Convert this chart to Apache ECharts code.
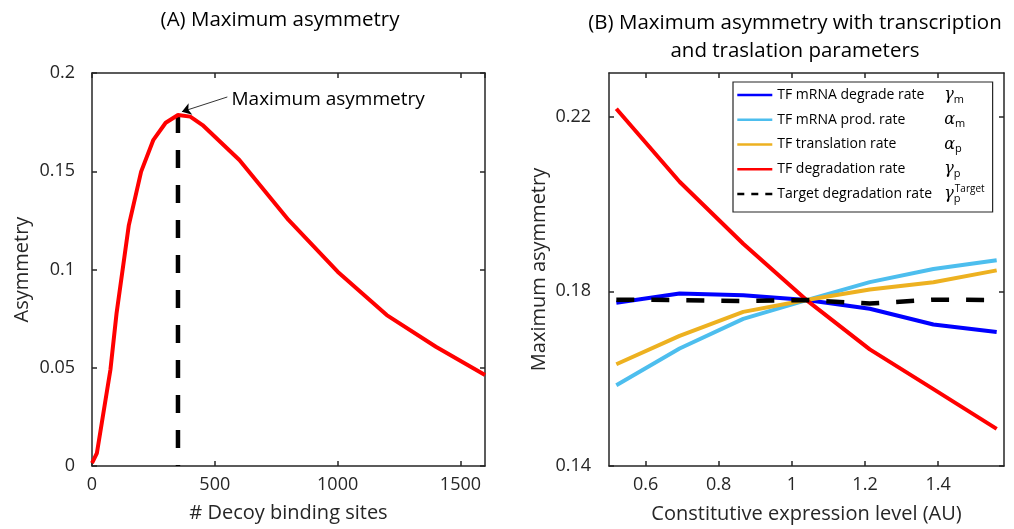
<!DOCTYPE html>
<html>
<head>
<meta charset="utf-8">
<script src="https://cdn.jsdelivr.net/npm/echarts@6/dist/echarts.min.js"></script>
<style>html,body{margin:0;padding:0;background:#fff}#c{width:1014px;height:529px}</style>
</head>
<body>
<div id="c"></div>
<script>
// ---------- Panel A data ----------
const decoySites = [0, 20, 40, 75, 100, 150, 200, 250, 300, 350, 400, 450, 600, 800, 1000, 1200, 1400, 1600];
const asymmetry  = [0.0015, 0.0066, 0.022, 0.049, 0.0777, 0.1226, 0.1498, 0.166, 0.1747, 0.1786, 0.1778, 0.1735, 0.1557, 0.1252, 0.0989, 0.0768, 0.0607, 0.0463];
const peakSite = 350;
const peakValue = 0.1786;
const annotationText = 'Maximum asymmetry';
const annotationAt = [568, 0.1863];      // label anchor (data units)
const arrowFrom = [551, 0.1878];         // arrow tail (data units)
const arrowTo = [366, 0.1803];           // arrow head (data units)

// ---------- Panel B data ----------
const expressionLevel = [0.52, 0.693, 0.867, 1.04, 1.213, 1.387, 1.56];
const seriesNamesB = ['TF mRNA degrade rate', 'TF mRNA prod. rate', 'TF translation rate', 'TF degradation rate', 'Target degradation rate'];
const mrnaDegrade   = [0.1774, 0.1795, 0.1791, 0.1780, 0.1760, 0.1724, 0.1707];
const mrnaProd      = [0.1585, 0.1669, 0.1737, 0.1780, 0.1821, 0.1851, 0.1871];
const translation   = [0.1633, 0.1698, 0.1753, 0.1780, 0.1804, 0.1821, 0.1848];
const tfDegradation = [0.2218, 0.2051, 0.1909, 0.1780, 0.1667, 0.1576, 0.1485];
const targetDegrad  = [0.1781, 0.1780, 0.1778, 0.1780, 0.1772, 0.1781, 0.1780];
const symbolsB = [['γ', 'm'], ['α', 'm'], ['α', 'p'], ['γ', 'p'], ['γ', 'p']];
const xTicksB = [0.6, 0.8, 1, 1.2, 1.4];
const yTicksB = [0.14, 0.18, 0.22];

const FONT = 'Open Sans';
const AX = '#262626';
const FS = 18;      // tick labels
const FN = 20;      // axis names

const zip = (xs, ys) => xs.map((x, i) => [x, ys[i]]);
const plain = v => String(Math.round(v * 1e6) / 1e6);

function axisBase(extra) {
  return Object.assign({
    type: 'value',
    axisLine: { show: true, onZero: false, lineStyle: { color: AX, width: 1.5 } },
    axisTick: { show: true, inside: true, length: 5, lineStyle: { color: AX, width: 1.5 } },
    splitLine: { show: false },
    axisLabel: { color: AX, fontSize: FS, fontFamily: FONT, formatter: plain }
  }, extra);
}

const chart = echarts.init(document.getElementById('c'), null, { renderer: 'canvas' });

const colorsB = ['#0000ff', '#4DBEEE', '#EDB120', '#ff0000', '#000000'];
const valuesB = [mrnaDegrade, mrnaProd, translation, tfDegradation, targetDegrad];

const seriesB = seriesNamesB.map((name, i) => ({
  name: name,
  type: 'line',
  xAxisIndex: 2, yAxisIndex: 2,
  data: zip(expressionLevel, valuesB[i]),
  symbol: 'none',
  lineStyle: i === 4 ? { color: colorsB[i], width: 4.5, type: [18, 17] } : { color: colorsB[i], width: 4 },
  itemStyle: { color: colorsB[i] },
  z: 2 + i
}));

const option = {
  animation: false,
  backgroundColor: '#fff',
  textStyle: { fontFamily: FONT },
  title: [
    { text: '(A) Maximum asymmetry', left: 280, top: 10, textAlign: 'center', padding: 0,
      textStyle: { fontSize: 20.5, fontWeight: 'normal', color: '#000', fontFamily: FONT } },
    { text: '(B) Maximum asymmetry with transcription\nand traslation parameters', left: 795, top: 9, textAlign: 'center', padding: 0,
      textStyle: { fontSize: 20.5, fontWeight: 'normal', color: '#000', fontFamily: FONT, lineHeight: 28 } }
  ],
  grid: [
    { left: 92, top: 73, width: 393, height: 393 },
    { left: 609, top: 73, width: 395, height: 394 }
  ],
  xAxis: [
    axisBase({ gridIndex: 0, min: 0, max: 1600, interval: 500, position: 'bottom',
      axisLabel: { color: AX, fontSize: FS, fontFamily: FONT, margin: 10, showMaxLabel: false, formatter: plain },
      name: '# Decoy binding sites', nameLocation: 'middle', nameGap: 37,
      nameTextStyle: { color: AX, fontSize: FN, fontFamily: FONT } }),
    axisBase({ gridIndex: 0, min: 0, max: 1600, interval: 500, position: 'top', axisLabel: { show: false } }),
    axisBase({ gridIndex: 1, min: 0.5, max: 1.58, position: 'bottom',
      axisTick: { show: true, inside: true, length: 5, lineStyle: { color: AX, width: 1.5 }, customValues: xTicksB },
      axisLabel: { color: AX, fontSize: FS, fontFamily: FONT, margin: 10, customValues: xTicksB, formatter: plain },
      name: 'Constitutive expression level (AU)', nameLocation: 'middle', nameGap: 38,
      nameTextStyle: { color: AX, fontSize: FN, fontFamily: FONT } }),
    axisBase({ gridIndex: 1, min: 0.5, max: 1.58, position: 'top',
      axisTick: { show: true, inside: true, length: 5, lineStyle: { color: AX, width: 1.5 }, customValues: xTicksB },
      axisLabel: { show: false } })
  ],
  yAxis: [
    axisBase({ gridIndex: 0, min: 0, max: 0.2, interval: 0.05, position: 'left',
      axisLabel: { color: AX, fontSize: FS, fontFamily: FONT, margin: 17, formatter: plain },
      name: 'Asymmetry', nameLocation: 'middle', nameGap: 60,
      nameTextStyle: { color: AX, fontSize: FN, fontFamily: FONT } }),
    axisBase({ gridIndex: 0, min: 0, max: 0.2, interval: 0.05, position: 'right', axisLabel: { show: false } }),
    axisBase({ gridIndex: 1, min: 0.14, max: 0.23, position: 'left',
      axisTick: { show: true, inside: true, length: 5, lineStyle: { color: AX, width: 1.5 }, customValues: yTicksB },
      axisLabel: { color: AX, fontSize: FS, fontFamily: FONT, margin: 18, customValues: yTicksB, formatter: plain },
      name: 'Maximum asymmetry', nameLocation: 'middle', nameGap: 60,
      nameTextStyle: { color: AX, fontSize: FN, fontFamily: FONT } }),
    axisBase({ gridIndex: 1, min: 0.14, max: 0.23, position: 'right',
      axisTick: { show: true, inside: true, length: 5, lineStyle: { color: AX, width: 1.5 }, customValues: yTicksB },
      axisLabel: { show: false } })
  ],
  legend: {
    left: 733, top: 82, orient: 'vertical',
    itemWidth: 35, itemHeight: 14, itemGap: 4.75,
    padding: [3, 8, 8, 3],
    borderColor: AX, borderWidth: 1.2, backgroundColor: '#fff',
    selectedMode: false,
    itemStyle: { opacity: 0 },
    lineStyle: { width: 2.6 },
    data: seriesNamesB.map((n, i) => i === 4
      ? { name: n, lineStyle: { type: [7, 7], width: 2.6 } }
      : { name: n }),
    formatter: function (name) {
      const i = seriesNamesB.indexOf(name);
      const s = symbolsB[i];
      if (i === 4) return '{n|' + name + '}{g|' + s[0] + '}{s0|' + s[1] + '}{t|Target}';
      return '{n|' + name + '}{g|' + s[0] + '}{s|' + s[1] + '}';
    },
    textStyle: {
      color: '#000', fontFamily: FONT, fontSize: 14, lineHeight: 20,
      rich: {
        n: { width: 167, fontSize: 14, fontFamily: FONT, color: '#000', lineHeight: 20 },
        g: { fontSize: 16, fontFamily: 'DejaVu Serif', fontStyle: 'italic', color: '#000', lineHeight: 20 },
        s: { fontSize: 11, fontFamily: FONT, color: '#000', lineHeight: 11, verticalAlign: 'bottom' },
        s0: { fontSize: 11, fontFamily: FONT, color: '#000', lineHeight: 11, verticalAlign: 'bottom', width: 1 },
        t: { fontSize: 10, fontFamily: FONT, color: '#000', lineHeight: 10, verticalAlign: 'top' }
      }
    }
  },
  series: [
    {
      name: 'Asymmetry',
      type: 'line', xAxisIndex: 0, yAxisIndex: 0,
      data: zip(decoySites, asymmetry),
      symbol: 'none',
      lineStyle: { color: '#ff0000', width: 4 },
      itemStyle: { color: '#ff0000' },
      z: 3,
      markLine: {
        silent: true,
        symbol: ['none', 'arrow'],
        symbolSize: 9,
        label: { show: false },
        lineStyle: { color: '#000', width: 0.8, type: 'solid' },
        data: [[{ coord: arrowFrom }, { coord: arrowTo }]]
      },
      markPoint: {
        silent: true,
        symbol: 'circle', symbolSize: 0,
        label: { show: true, position: 'right', distance: 0, formatter: annotationText,
          color: '#000', fontSize: 19, fontFamily: FONT },
        data: [{ coord: annotationAt }]
      }
    },
    {
      name: 'Peak',
      type: 'line', xAxisIndex: 0, yAxisIndex: 0,
      data: [[peakSite, peakValue], [peakSite, 0]],
      symbol: 'none',
      lineStyle: { color: '#000', width: 4.5, type: [18, 17] },
      itemStyle: { color: '#000' },
      z: 2
    }
  ].concat(seriesB)
};

chart.setOption(option);
</script>
</body>
</html>
